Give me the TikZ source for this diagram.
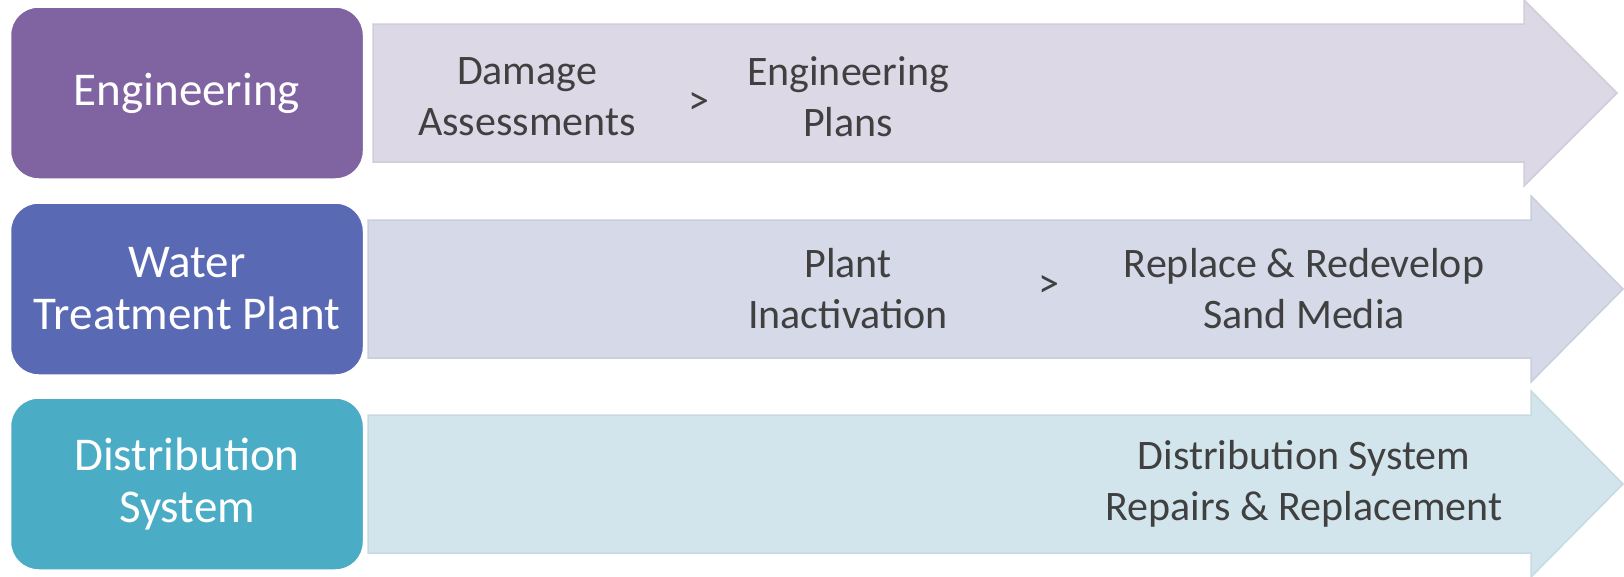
\documentclass[tikz,border=0pt]{standalone}
\usepackage{fontspec}
\setmainfont{Carlito}
\usepackage{tikz}

\definecolor{engpurple}{HTML}{8064A2}
\definecolor{wtpblue}{HTML}{5A69B4}
\definecolor{distteal}{HTML}{4BACC6}
\definecolor{arrA}{HTML}{DCD8E6}
\definecolor{arrB}{HTML}{D5D9E8}
\definecolor{arrC}{HTML}{D3E5EC}
\definecolor{txtgray}{HTML}{404040}

\begin{document}
\begin{tikzpicture}[x=1pt,y=-1pt,
    catbox/.style={rounded corners=28pt, minimum width=353pt, minimum height=172pt,
      draw=white, line width=1.5pt, text=white, align=center,
      font=\fontsize{47}{52}\selectfont},
    steptext/.style={text=txtgray, align=center, font=\fontsize{42}{51}\selectfont}]
          \useasboundingbox (0,0) rectangle (1624,576);

          % the three long arrows
          \foreach \l/\c/\b/\t/\col in {373/93/1524/1617/arrA, 368/289/1531/1623/arrB, 368/484/1531/1623/arrC} {
            \filldraw[fill=\col, draw=\col!95!black, line width=1.5pt, line join=miter]
              (\l,\c-69) -- (\b,\c-69) -- (\b,\c-93) -- (\t,\c) -- (\b,\c+93) -- (\b,\c+69) -- (\l,\c+69) -- cycle;
          }

          \node[catbox, fill=engpurple] (eng) at (187,93) {Engineering};
          \node[catbox, fill=wtpblue] (wtp) at (187,289) {Water\\Treatment Plant};
          \node[catbox, fill=distteal] (dist) at (187,484) {Distribution\\System};

          \node[steptext] (dmg) at (527,97) {Damage\\Assessments};
          \node[steptext] (gt1) at (699,103) {>};
          \node[steptext] (engplan) at (848,97) {Engineering\\Plans};

          \node[steptext] (inact) at (848,289) {Plant\\Inactivation};
          \node[steptext] (gt2) at (1049,286) {>};
          \node[steptext] (sand) at (1304,289) {Replace \& Redevelop\\Sand Media};

          \node[steptext] (distrep) at (1304,484) {Distribution System\\Repairs \& Replacement};
        \end{tikzpicture}
\end{document}
